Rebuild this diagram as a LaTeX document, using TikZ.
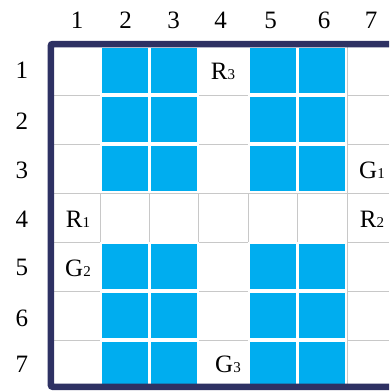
\documentclass[tikz,border=0pt]{standalone}
\usepackage{fontspec}
\setmainfont{Liberation Serif}
\definecolor{navy}{HTML}{2E3163}
\definecolor{cyanb}{HTML}{00ADEF}
\definecolor{gridg}{HTML}{C8C8C8}
\newcommand{\sublab}[2]{#1{\fontsize{15}{15}\selectfont #2}}
\begin{document}
\begin{tikzpicture}[x=1pt,y=-1pt,
  lab/.style={font=\fontsize{25}{25}\selectfont, inner sep=0pt, anchor=center},
  gridline/.style={draw=gridg, line width=1pt},
  bluecell/.style={fill=cyanb},
  frame/.style={draw=navy, line width=6.5pt, rounded corners=2pt}]
\useasboundingbox (0,0) rectangle (389,391);
\clip (0,0) rectangle (389,391);
% grid lines
\foreach \k in {1,...,6} {
  \draw[gridline] ({50.6+49.4*\k},46) -- ({50.6+49.4*\k},389);
  \draw[gridline] (50.6,{46+49*\k}) -- (389,{46+49*\k});
}
% blue cells
\foreach \j in {1,2,3,5,6,7} {
  \foreach \k in {2,3,5,6} {
    \fill[white] ({50.6+49.4*(\k-1)},{46+49*(\j-1)}) rectangle ({50.6+49.4*\k},{46+49*\j});
    \fill[bluecell] ({50.6+49.4*(\k-1)+1.8},{46+49*(\j-1)+1.8}) rectangle ({50.6+49.4*\k-1.8},{46+49*\j-1.8});
  }
}
% frame
\draw[frame] (430,44) -- (50.8,44) -- (50.8,386.8) -- (430,386.8);
% column labels
\foreach \k/\x in {1/77,2/125.5,3/173.5,4/220.5,5/270.5,6/324,7/371} {
  \node[lab] (c\k) at (\x,20) {\k};
}
% row labels
\foreach \j/\y in {1/70,2/121,3/170,4/219,5/267.5,6/318,7/364} {
  \node[lab] (row\j) at (22,\y) {\j};
}
% cell labels
\node[lab] (R3) at (223,71) {\sublab{R}{3}};
\node[lab] (G1) at (372,170) {\sublab{G}{1}};
\node[lab] (R1) at (78,219) {\sublab{R}{1}};
\node[lab] (R2) at (372,219) {\sublab{R}{2}};
\node[lab] (G2) at (78,268) {\sublab{G}{2}};
\node[lab] (G3) at (228,364) {\sublab{G}{3}};
\end{tikzpicture}
\end{document}
